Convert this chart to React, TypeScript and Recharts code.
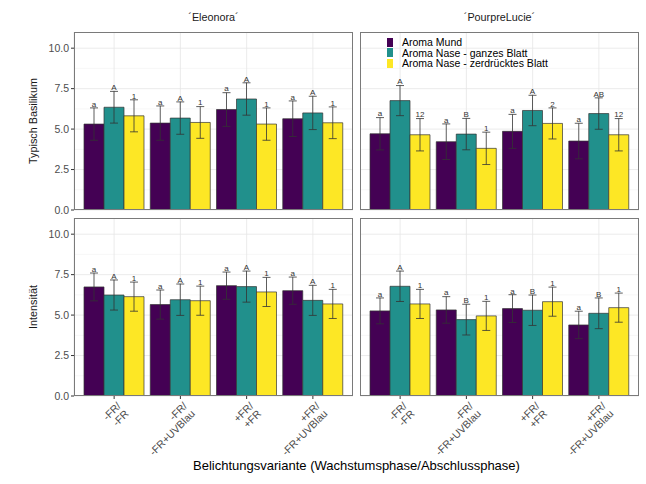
import React from 'react'
import {
  Bar,
  BarChart,
  CartesianGrid,
  ErrorBar,
  LabelList,
  XAxis,
  YAxis,
} from 'recharts'

const FONT = '"Liberation Sans", Arial, Helvetica, sans-serif'

// Belichtungsvariante: Wachstumsphase / Abschlussphase
const wachstumsphase = ['-FR', '-FR', '+FR', '+FR']
const abschlussphase = ['-FR', '-FR+UVBlau', '+FR', '-FR+UVBlau']
const kategorien = wachstumsphase.map((w, i) => `${w}/${abschlussphase[i]}`)

const serien = ['Aroma Mund', 'Aroma Nase - ganzes Blatt', 'Aroma Nase - zerdrücktes Blatt']
const farben = ['#440154', '#21908C', '#FDE725']
const yTicks = [0, 2.5, 5, 7.5, 10]
const yMinor = [1.25, 3.75, 6.25, 8.75]

// Typisch Basilikum – 'Eleonora'
const typischEleonoraMittel = [
  [5.31, 5.37, 6.21, 5.64],
  [6.35, 5.68, 6.86, 6.0],
  [5.82, 5.41, 5.31, 5.39],
]
const typischEleonoraSd = [
  [1.0, 1.06, 1.04, 1.1],
  [0.98, 1.0, 1.0, 1.03],
  [0.99, 0.98, 1.0, 0.98],
]
const typischEleonoraBuchst = [
  ['a', 'a', 'a', 'a'],
  ['A', 'A', 'A', 'A'],
  ['1', '1', '1', '1'],
]

// Typisch Basilikum – 'PourpreLucie'
const typischLucieMittel = [
  [4.71, 4.22, 4.86, 4.26],
  [6.76, 4.69, 6.15, 5.96],
  [4.65, 3.81, 5.35, 4.65],
]
const typischLucieSd = [
  [1.0, 1.1, 1.05, 1.1],
  [0.93, 0.97, 0.94, 0.97],
  [1.0, 1.0, 0.96, 1.0],
]
const typischLucieBuchst = [
  ['a', 'a', 'a', 'a'],
  ['A', 'B', 'A', 'AB'],
  ['12', '1', '2', '12'],
]

// Intensität – 'Eleonora'
const intensEleonoraMittel = [
  [6.74, 5.65, 6.82, 6.51],
  [6.24, 5.95, 6.76, 5.91],
  [6.14, 5.89, 6.43, 5.69],
]
const intensEleonoraSd = [
  [0.86, 0.9, 0.84, 0.84],
  [0.93, 0.97, 0.96, 0.93],
  [0.9, 0.9, 0.9, 0.9],
]
const intensEleonoraBuchst = [
  ['a', 'a', 'a', 'a'],
  ['A', 'A', 'A', 'A'],
  ['1', '1', '1', '1'],
]

// Intensität – 'PourpreLucie'
const intensLucieMittel = [
  [5.26, 5.32, 5.4, 4.39],
  [6.78, 4.72, 5.3, 5.11],
  [5.69, 4.95, 5.83, 5.46],
]
const intensLucieSd = [
  [0.8, 0.82, 0.86, 0.85],
  [0.94, 0.95, 0.94, 0.95],
  [0.9, 0.9, 0.9, 0.9],
]
const intensLucieBuchst = [
  ['a', 'a', 'a', 'a'],
  ['A', 'B', 'B', 'B'],
  ['1', '1', '1', '1'],
]

const PANEL_W = 279
const PANEL_H = 178
const Y_AXIS_W = 74
const X_AXIS_H = 70
const TOP_PAD = 8 // room under the upper panels so the 0.0 label is not clipped

function CategoryTick({ x, y, payload }: any) {
  const s = String(payload.value)
  const cut = s.indexOf('/')
  const first = s.slice(0, cut + 1)
  const second = s.slice(cut + 1)
  return (
    <g transform={`translate(${x + 2},${y}) rotate(-45)`}>
      <text textAnchor='end' fontSize={10.5} fill='#4d4d4d' fontFamily={FONT}>
        <tspan x={0} dy='0.75em'>{first}</tspan>
        <tspan x={0} dy='1.05em'>{second}</tspan>
      </text>
    </g>
  )
}

function YTitle({ viewBox, text }: any) {
  const cx = viewBox.x + 33
  const cy = viewBox.y + viewBox.height / 2
  return (
    <text
      x={cx}
      y={cy}
      transform={`rotate(-90, ${cx}, ${cy})`}
      textAnchor='middle'
      dominantBaseline='central'
      fontSize={10.8}
      fill='#1a1a1a'
      fontFamily={FONT}
    >
      {text}
    </text>
  )
}

// letter just above the top of the error bar
const letterLabel = (means: number[], sds: number[]) => (props: any) => {
  const { x, y, width, height, value, index } = props
  const perUnit = height / means[index]
  const capY = y - sds[index] * perUnit
  return (
    <text
      x={x + width / 2}
      y={capY - 1.2}
      textAnchor='middle'
      fontSize={8}
      fill='#333'
      fontFamily={FONT}
    >
      {value}
    </text>
  )
}

interface PanelProps {
  left: number
  top: number
  means: number[][]
  sds: number[][]
  letters: string[][]
  yTitle?: string
  showX?: boolean
}

function Panel({ left, top, means, sds, letters, yTitle, showX }: PanelProps) {
  const data = kategorien.map((name, i) => {
    const row: any = { name }
    serien.forEach((_, k) => {
      row[`m${k}`] = means[k][i]
      row[`s${k}`] = sds[k][i]
      row[`l${k}`] = letters[k][i]
    })
    return row
  })
  const yw = yTitle ? Y_AXIS_W : 0
  const xh = showX ? X_AXIS_H : 0
  const pad = showX ? 0 : TOP_PAD
  return (
    <>
      <div style={{ position: 'absolute', left: left - yw, top }}>
        <BarChart
          width={PANEL_W + yw}
          height={PANEL_H + xh + pad}
          data={data}
          margin={{ top: 0, right: 0, bottom: pad, left: 0 }}
          barCategoryGap={3}
          barGap={0}
        >
          <CartesianGrid
            horizontalValues={yMinor}
            vertical={false}
            stroke='#f1f1f1'
            strokeWidth={0.6}
          />
          <CartesianGrid
            horizontalValues={yTicks}
            stroke='#e6e6e6'
            strokeWidth={0.8}
          />
          <XAxis
            dataKey='name'
            hide={!showX}
            height={xh}
            padding={{ left: 7, right: 7 }}
            axisLine={false}
            tickLine={{ stroke: '#333' }}
            tickSize={3}
            tickMargin={2}
            tick={<CategoryTick />}
            interval={0}
          />
          <YAxis
            hide={!yTitle}
            width={yw}
            domain={[0, 11]}
            ticks={yTicks}
            interval={0}
            allowDataOverflow
            axisLine={false}
            tickLine={{ stroke: '#333' }}
            tickSize={3}
            tickMargin={2}
            tickFormatter={(v) => Number(v).toFixed(1)}
            tick={{ fontSize: 10.5, fill: '#4d4d4d', fontFamily: FONT }}
            label={<YTitle text={yTitle} />}
          />
          {serien.map((name, k) => (
            <Bar
              key={name}
              dataKey={`m${k}`}
              name={name}
              fill={farben[k]}
              stroke='#333'
              strokeWidth={0.7}
              isAnimationActive={false}
            >
              <ErrorBar
                dataKey={`s${k}`}
                width={4}
                stroke='#333'
                strokeWidth={0.8}
                direction='y'
              />
              <LabelList dataKey={`l${k}`} content={letterLabel(means[k], sds[k])} />
            </Bar>
          ))}
        </BarChart>
      </div>
      <div
        style={{
          position: 'absolute',
          left,
          top,
          width: PANEL_W,
          height: PANEL_H,
          border: '1px solid #7a7a7a',
          boxSizing: 'border-box',
          pointerEvents: 'none',
        }}
      />
    </>
  )
}

function Strip({ left, text }: { left: number; text: string }) {
  return (
    <div
      style={{
        position: 'absolute',
        left,
        top: 11,
        width: PANEL_W,
        textAlign: 'center',
        fontSize: 10.8,
        color: '#1a1a1a',
      }}
    >
      {text}
    </div>
  )
}

export default function App() {
  const L = 74
  const R = 360
  const T = 32
  const B = 218
  return (
    <div
      style={{
        position: 'absolute',
        left: 0,
        top: 0,
        width: 646,
        height: 484,
        background: '#fff',
        fontFamily: FONT,
      }}
    >
      <Strip left={L} text='´Eleonora´' />
      <Strip left={R} text='´PourpreLucie´' />
      <Panel
        left={L}
        top={B}
        means={intensEleonoraMittel}
        sds={intensEleonoraSd}
        letters={intensEleonoraBuchst}
        yTitle='Intensität'
        showX
      />
      <Panel
        left={R}
        top={B}
        means={intensLucieMittel}
        sds={intensLucieSd}
        letters={intensLucieBuchst}
        showX
      />
      <Panel
        left={L}
        top={T}
        means={typischEleonoraMittel}
        sds={typischEleonoraSd}
        letters={typischEleonoraBuchst}
        yTitle='Typisch Basilikum'
      />
      <Panel
        left={R}
        top={T}
        means={typischLucieMittel}
        sds={typischLucieSd}
        letters={typischLucieBuchst}
      />
      <div style={{ position: 'absolute', left: 387, top: 37 }}>
        {serien.map((name, k) => (
          <div
            key={name}
            style={{ display: 'flex', alignItems: 'center', height: 10.5 }}
          >
            <div style={{ width: 6, height: 9, background: farben[k] }} />
            <div
              style={{
                marginLeft: 9,
                fontSize: 10.5,
                lineHeight: '10.5px',
                color: '#000',
                whiteSpace: 'nowrap',
              }}
            >
              {name}
            </div>
          </div>
        ))}
      </div>
      <div
        style={{
          position: 'absolute',
          left: L,
          top: 458,
          width: R + PANEL_W - L,
          textAlign: 'center',
          fontSize: 13,
          color: '#000',
        }}
      >
        Belichtungsvariante (Wachstumsphase/Abschlussphase)
      </div>
    </div>
  )
}
